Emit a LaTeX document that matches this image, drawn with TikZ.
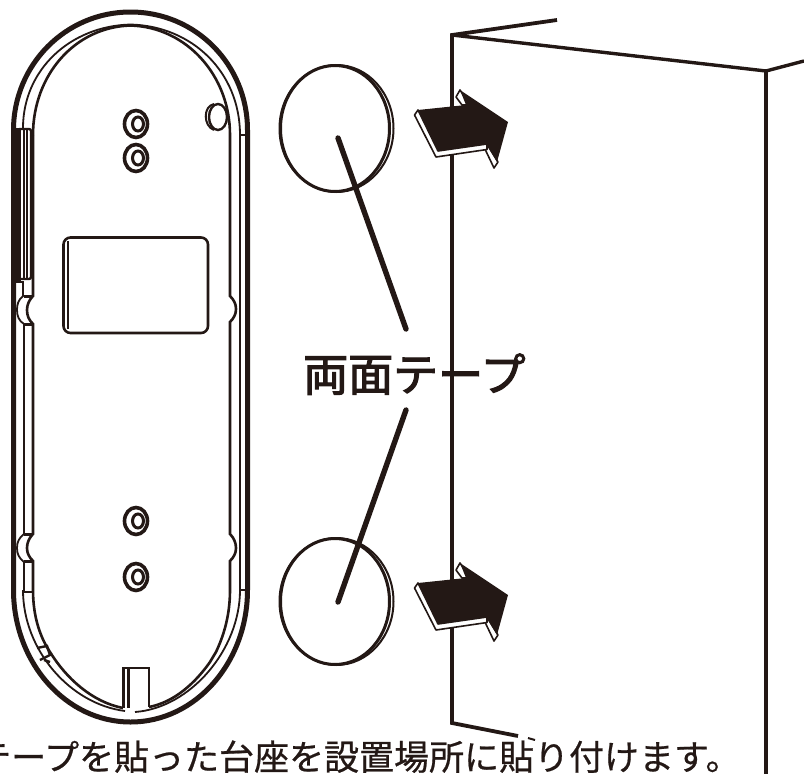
\documentclass[tikz,border=0pt]{standalone}
\usepackage{fontspec}
\newfontfamily\jplabel[FakeBold=2.5]{Noto Sans CJK JP}
\newfontfamily\jpcap[FakeBold=0.6]{Noto Sans CJK JP}
\definecolor{ink}{HTML}{231815}
\tikzset{
  ln/.style={draw=ink,line width=#1},
  ln/.default=1.5pt,
  tape/.style={draw=ink,line width=3pt,fill=white},
  lead/.style={draw=ink,line width=5.4pt,line cap=round},
  wall/.style={draw=ink,line width=3.8pt},
}
\newcommand{\screwat}[2]{%
  \draw[ln=3.6pt] (#1,#2) ellipse [x radius=11.5,y radius=13.5];
  \draw[ln=3pt] (#1+2,#2) ellipse [x radius=5.5,y radius=7];
}
\newcommand{\bigarrow}[1]{%
  \begin{scope}[yshift=-#1pt]
  \draw[ln=1.6pt,fill=white,line join=round] (460,90) -- (456,97) -- (462,105) -- (470,105) -- cycle;
  \draw[ln=1.6pt,fill=white,line join=round] (484,147) -- (494,168) -- (498,162) -- (487,144) -- cycle;
  \draw[ln=1.6pt,fill=white,line join=round] (418,110) -- (414.5,115) -- (436,157) -- (487,149.5) -- (487,144) -- (438,151) -- cycle;
  \fill[ink] (418,110) -- (466,105) -- (460,90) -- (508,122) -- (497,162) -- (486,144) -- (438,151) -- cycle;
  \end{scope}
}
\newcommand{\tapedisc}[1]{%
  \begin{scope}[yshift=-#1pt]
  \draw[ln=2pt,fill=white] (336.5,128.5) ellipse [x radius=57,y radius=63.5];
  \draw[tape] (335,128.5) ellipse [x radius=54.5,y radius=63];
  \end{scope}
}
\begin{document}
\begin{tikzpicture}[x=1pt,y=-1pt]
\useasboundingbox (0,0) rectangle (804,774);
\clip (0,0) rectangle (804,774);
\fill[white] (0,0) rectangle (804,774);
% wall
\coordinate (wtl) at (452,35);
\coordinate (wtb) at (557,20);
\coordinate (wtr) at (766,71);
\coordinate (wre) at (804,61);
\coordinate (wrb) at (766,774);
\coordinate (wbl) at (452,723);
\coordinate (wbe) at (518,736);
\draw[wall,line join=miter] (wtb) -- (wtl) -- (wbl) -- (wbe);
\draw[wall,line width=3.4pt] (wtl) -- (wtr) -- (wre);
\draw[wall] (wtr) -- (wrb);
\draw[ln=2pt] (528,738) -- (535,740);
% arrows
\bigarrow{0}
\bigarrow{473}
% tapes
\tapedisc{0}
\tapedisc{473}
% base: outer wall
\draw[ln=5pt] (13.5,130) .. controls (13.5,65) and (65.5,12) .. (130.5,12)
  .. controls (196,12) and (247.5,65) .. (247.5,130) -- (247.5,590)
  .. controls (247.5,662) and (196,722) .. (130.5,722)
  .. controls (65.5,722) and (13.5,662) .. (13.5,590) -- cycle;
% middle line (B)
\draw[ln=1.8pt] (23,128) .. controls (23,70) and (70,26) .. (130.5,24.5)
  .. controls (192,26) and (240,72) .. (240,135) -- (240,590)
  .. controls (240,650) and (190,708) .. (135,712);
\draw[ln=1.8pt] (23,590) .. controls (23,650) and (70,704) .. (125,711);
\draw[ln=1.8pt] (23,281) -- (23,296) .. controls (18,300) and (17,305) .. (17,310)
  .. controls (17,316) and (19,321) .. (24,324) -- (24,534);
\draw[ln=1.8pt] (24,534) .. controls (19,538) and (17,542) .. (17,548)
  .. controls (17,554) and (19,558) .. (24,562) -- (24,592);
% inner contour (A)
\draw[ln=2.6pt] (33,135) .. controls (33,75) and (75,27) .. (130.5,25.5)
  .. controls (186,27) and (230,75) .. (230,135) -- (230,296)
  .. controls (234,300) and (236,304) .. (236,309)
  .. controls (236,314) and (234,318) .. (230,322) -- (230,534)
  .. controls (234,538) and (236,543) .. (236,548)
  .. controls (236,553) and (234,557) .. (230,561) -- (230,590)
  .. controls (230,615) and (224,635) .. (216,652) -- (210,662)
  .. controls (196,682) and (175,702) .. (149,707);
\draw[ln=2.6pt] (33,135) -- (33,296) .. controls (29,300) and (27,305) .. (27,310)
  .. controls (27,316) and (29,320) .. (33,324) -- (33,534)
  .. controls (29,538) and (27,543) .. (27,548)
  .. controls (27,553) and (29,557) .. (33,561) -- (33,590)
  .. controls (33,620) and (42,640) .. (50,652)
  .. controls (66,678) and (92,702) .. (123,708);
% notch ticks
\draw[ln=3pt] (24,296) -- (33,296);
\draw[ln=3pt] (24,324) -- (33,324);
\draw[ln=3pt] (24,534) -- (33,534);
\draw[ln=3pt] (24,561) -- (33,561);
\draw[ln=1.6pt] (23,592) -- (33,592);
\draw[ln=1.6pt] (240,590) -- (248,590);
\draw[ln=1.6pt] (240,135) -- (248,135);
% lower-left clip
\draw[ln=2.4pt] (37,648) -- (47,646) -- (50,655) -- (40,660);
\draw[ln=2.4pt] (50,662) -- (44,660);
% side bar
\fill[ink] (11,128) -- (21,128) -- (21,282) -- (11,282) -- cycle;
\draw[ln=2.4pt,rounded corners=2pt] (19,129) -- (31,129) -- (31,279) -- (19,279);
\draw[ln=1.2pt] (24,130) -- (24,278);
\draw[ln=1.2pt] (27,130) -- (27,278);
\draw[ln=2.4pt] (11,282) -- (24,282);
% bottom tab
\draw[ln=2.6pt] (123.5,708) -- (123.5,668) -- (149,668) -- (149,707);
\draw[ln=2.6pt] (128.5,668) -- (128.5,708);
% hole
\draw[ln=2.4pt] (218,117) ellipse [x radius=9,y radius=13];
\draw[ln=2pt] (214,104) .. controls (203,106) and (203,126) .. (214,130);
% screws
\screwat{136}{124}
\screwat{136}{158}
\screwat{136}{521}
\screwat{136}{577}
% recess
\draw[ln=2.6pt,rounded corners=7pt] (63.5,237.5) rectangle (208,333);
\draw[ln=1.8pt] (68,241) -- (68,329);
% leaders
\coordinate (la) at (338,138);
\coordinate (lb) at (406,329);
\coordinate (lc) at (406,410);
\coordinate (ld) at (338,602);
\draw[lead] (la) -- (lb);
\draw[lead] (lc) -- (ld);
% texts
\node[anchor=base west,inner sep=0pt,text=ink,font=\jplabel\fontsize{45}{45}\selectfont] (lbl) at (303,391) {両面テープ};
\node[anchor=base west,inner sep=0pt,text=ink,font=\jpcap\fontsize{35}{35}\selectfont] (cap) at (-24,770) {テープを貼った台座を設置場所に貼り付けます。};
\end{tikzpicture}
\end{document}
